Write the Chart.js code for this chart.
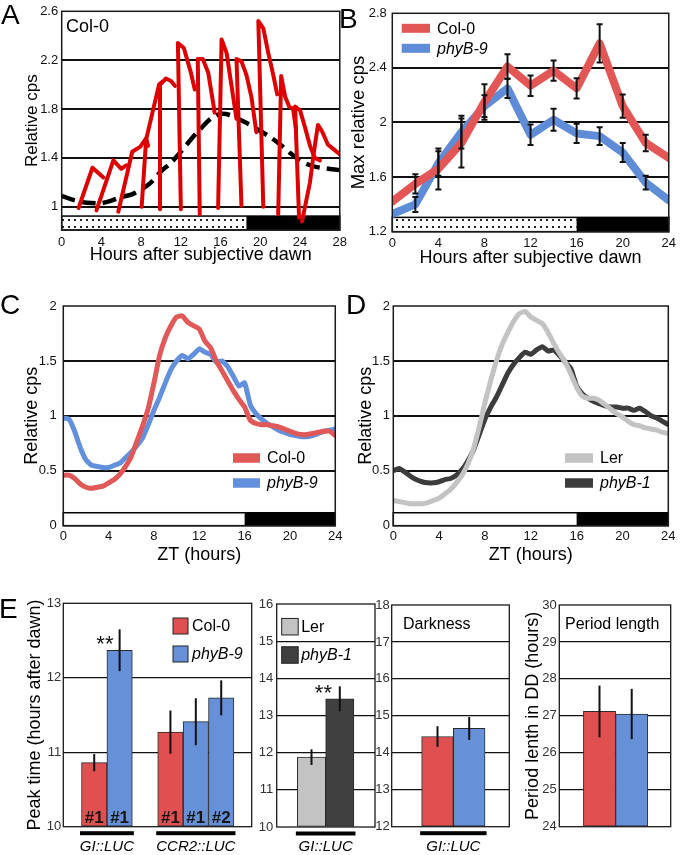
<!DOCTYPE html>
<html>
<head>
<meta charset="utf-8">
<title>phyB rhythm figure</title>
<script src="https://cdn.jsdelivr.net/npm/chart.js@4.4.1/dist/chart.umd.min.js"></script>
<style>
  body { margin: 0; background: #fff; }
  #fig { position: relative; width: 680px; height: 855px; overflow: hidden; background: #fff;
         font-family: "Liberation Sans", Arial, sans-serif; }
  #fig canvas { position: absolute; }
  .txt { position: absolute; white-space: nowrap; line-height: 1; color: #000; }
  .letter { font-size: 28px; }
  .note { font-size: 16px; }
</style>
</head>
<body>
<div id="fig">
  <canvas id="chartA" width="352" height="275" style="left:0;top:0"></canvas>
  <canvas id="chartB" width="340" height="275" style="left:340px;top:0"></canvas>
  <canvas id="chartC" width="345" height="290" style="left:0;top:280px"></canvas>
  <canvas id="chartD" width="340" height="290" style="left:340px;top:280px"></canvas>
  <canvas id="chartE1" width="258" height="265" style="left:0;top:590px"></canvas>
  <canvas id="chartE2" width="122" height="265" style="left:258px;top:590px"></canvas>
  <canvas id="chartE3" width="141" height="265" style="left:374px;top:590px"></canvas>
  <canvas id="chartE4" width="165" height="265" style="left:515px;top:590px"></canvas>

  <div class="txt letter" style="left:1px;top:1px">A</div>
  <div class="txt letter" style="left:339px;top:5px">B</div>
  <div class="txt letter" style="left:0px;top:291px">C</div>
  <div class="txt letter" style="left:346px;top:291px">D</div>
  <div class="txt letter" style="left:-1px;top:595px">E</div>
  <div class="txt" style="left:66px;top:17px;font-size:18px">Col-0</div>
  <div class="txt note" style="left:403px;top:616px">Darkness</div>
  <div class="txt note" style="left:565px;top:616px">Period length</div>
</div>

<script>
// ---------- A: Col-0 traces, one per start time (hours after subjective dawn, relative cps)
const aTraces = [
  [[1.7, 0.99], [3.1, 1.32], [4.2, 1.24]],
  [[3.5, 0.97], [5.2, 1.38], [6.0, 1.31], [6.5, 1.34]],
  [[5.7, 0.96], [7.1, 1.45], [7.9, 1.49], [8.5, 1.56], [8.7, 1.5]],
  [[8.05, 1.0], [8.5, 1.55], [9.8, 2.0], [10.1, 2.02]],
  [[9.9, 0.98], [9.9, 2.0], [10.5, 2.05], [11.0, 2.03], [11.4, 1.99]],
  [[12.0, 0.98], [11.7, 2.34], [12.3, 2.3], [13.0, 2.1], [13.4, 1.96]],
  [[13.9, 0.94], [13.7, 2.21], [14.2, 2.21], [14.75, 2.1], [15.25, 1.85], [15.4, 1.77]],
  [[15.75, 0.99], [16.1, 2.37], [16.6, 2.26], [17.1, 1.99], [17.6, 1.72]],
  [[18.1, 1.01], [17.6, 2.21], [18.1, 2.19], [18.6, 2.08], [19.1, 1.9], [19.6, 1.61]],
  [[20.3, 1.0], [19.8, 2.52], [20.3, 2.46], [20.8, 2.26], [21.3, 2.08], [21.7, 1.92]],
  [[21.8, 0.94], [22.1, 2.07], [22.5, 1.9], [22.9, 1.82], [23.3, 1.8], [23.6, 1.63]],
  [[23.9, 0.91], [23.5, 1.82], [24.0, 1.79], [24.5, 1.65], [25.0, 1.5], [25.5, 1.4], [26.0, 1.38]],
  [[24.2, 0.88], [25.0, 1.2], [25.4, 1.45], [25.8, 1.67], [26.2, 1.62], [26.8, 1.51], [27.4, 1.47], [28.0, 1.43]]
];
const aMeanHours = [0, 1, 2, 3, 4, 5, 6, 7, 8, 9, 10, 11, 12, 13, 14, 15, 16, 17, 18, 19, 20, 21, 22, 23, 24, 25, 26, 27, 28];
const aMean = [1.09, 1.06, 1.04, 1.03, 1.03, 1.05, 1.08, 1.1, 1.14, 1.2, 1.29, 1.36, 1.45, 1.55, 1.64,
               1.72, 1.76, 1.75, 1.71, 1.67, 1.62, 1.57, 1.51, 1.44, 1.38, 1.34, 1.32, 1.31, 1.3];
const aXTicks = [0, 4, 8, 12, 16, 20, 24, 28];
const aYTicks = [1, 1.4, 1.8, 2.2, 2.6];
const aLight = [0, 18.6];
const aDark = [18.6, 28];
const aBand = [0.81, 0.924];

// ---------- B: max relative cps every 2 h
const bHours = [0, 2, 4, 6, 8, 10, 12, 14, 16, 18, 20, 22, 24];
const bCol = [1.42, 1.55, 1.66, 1.85, 2.15, 2.41, 2.27, 2.38, 2.25, 2.58, 2.12, 1.85, 1.74];
const bColErr = [null, 0.07, 0.15, 0.18, 0.13, 0.09, 0.075, 0.075, 0.075, 0.14, 0.085, 0.06, null];
const bPhy = [1.33, 1.40, 1.70, 1.93, 2.12, 2.25, 1.91, 2.02, 1.92, 1.90, 1.78, 1.56, 1.43];
const bPhyErr = [null, 0.055, 0.09, 0.12, 0.08, 0.07, 0.075, 0.08, 0.07, 0.065, 0.07, 0.05, null];
const bXTicks = [0, 4, 8, 12, 16, 20, 24];
const bYTicks = [1.2, 1.6, 2, 2.4, 2.8];
const bLight = [0, 16];
const bDark = [16, 24];
const bBand = [1.2, 1.305];

// ---------- C / D: traces over ZT (half-hour steps)
const ztHours = [0, 0.5, 1, 1.5, 2, 2.5, 3, 3.5, 4, 4.5, 5, 5.5, 6, 6.5, 7, 7.5, 8, 8.5, 9, 9.5,
                 10, 10.5, 11, 11.5, 12, 12.5, 13, 13.5, 14, 14.5, 15, 15.5, 16, 16.5, 17, 17.5, 18, 18.5, 19, 19.5,
                 20, 20.5, 21, 21.5, 22, 22.5, 23, 23.5, 24];
const cCol = [0.46, 0.46, 0.43, 0.38, 0.35, 0.34, 0.35, 0.36, 0.39, 0.42, 0.47, 0.54, 0.63, 0.77, 0.91, 1.07,
              1.3, 1.55, 1.71, 1.82, 1.9, 1.91, 1.85, 1.82, 1.79, 1.68, 1.62, 1.5, 1.41, 1.32, 1.23, 1.15,
              1.08, 0.96, 0.93, 0.92, 0.92, 0.91, 0.9, 0.88, 0.86, 0.84, 0.83, 0.83, 0.84, 0.85, 0.86, 0.86, 0.82];
const cPhy = [0.98, 0.97, 0.86, 0.71, 0.6, 0.55, 0.54, 0.53, 0.53, 0.55, 0.57, 0.62, 0.67, 0.73, 0.8, 0.92,
              1.05, 1.17, 1.3, 1.42, 1.5, 1.55, 1.52, 1.56, 1.61, 1.58, 1.56, 1.49, 1.5, 1.45, 1.36, 1.27,
              1.3, 1.1, 1.02, 0.97, 0.93, 0.9, 0.87, 0.85, 0.83, 0.82, 0.81, 0.81, 0.82, 0.84, 0.86, 0.87, 0.88];
const dLer = [0.23, 0.22, 0.21, 0.2, 0.2, 0.2, 0.21, 0.23, 0.25, 0.29, 0.33, 0.39, 0.46, 0.56, 0.7, 0.9,
              1.12, 1.32, 1.5, 1.65, 1.76, 1.86, 1.93, 1.95, 1.9, 1.87, 1.84, 1.76, 1.66, 1.57, 1.49, 1.38,
              1.26, 1.18, 1.16, 1.16, 1.14, 1.1, 1.06, 1.02, 0.99, 0.95, 0.92, 0.91, 0.89, 0.88, 0.87, 0.85, 0.84];
const dPhy = [0.5, 0.52, 0.49, 0.45, 0.42, 0.4, 0.39, 0.39, 0.4, 0.42, 0.43, 0.46, 0.51, 0.59, 0.69, 0.83,
              0.97, 1.08, 1.17, 1.28, 1.39, 1.47, 1.53, 1.58, 1.56, 1.6, 1.63, 1.59, 1.6, 1.55, 1.49, 1.43,
              1.27, 1.2, 1.16, 1.13, 1.11, 1.09, 1.08, 1.08, 1.07, 1.07, 1.05, 1.07, 1.04, 1.0, 0.98, 0.95, 0.92];
const ztTicks = [0, 4, 8, 12, 16, 20, 24];
const relTicks = [0, 0.5, 1, 1.5, 2];
const ztLight = [0, 16];
const ztDark = [16, 24];
const ztBand = [0, 0.118];

// ---------- E: bar slots, values and error half-widths
const e1Groups = ['GI::LUC', 'CCR2::LUC'];
const e1GroupSlots = [[1, 2], [4, 6]];
const e1ColSlot = [1, 4];
const e1Col = [10.86, 11.27];
const e1ColErr = [0.115, 0.29];
const e1ColTag = ['#1', '#1'];
const e1PhySlot = [2, 5, 6];
const e1Phy = [12.37, 11.41, 11.73];
const e1PhyErr = [0.28, 0.315, 0.235];
const e1PhyTag = ['#1', '#1', '#2'];
const e1PhyStar = ['**', '', ''];
const e1Ticks = [10, 11, 12, 13];

const e2Groups = ['GI::LUC'];
const e2GroupSlots = [[1, 2]];
const e2Ler = [11.88];
const e2LerErr = [0.21];
const e2Phy = [13.45];
const e2PhyErr = [0.335];
const e2PhyStar = ['**'];
const e2Ticks = [10, 11, 12, 13, 14, 15, 16];

const e3Groups = ['GI::LUC'];
const e3GroupSlots = [[1, 2]];
const e3Col = [14.44];
const e3ColErr = [0.28];
const e3Phy = [14.66];
const e3PhyErr = [0.31];
const e3Ticks = [12, 13, 14, 15, 16, 17, 18];

const e4Col = [27.12];
const e4ColErr = [0.7];
const e4Phy = [27.05];
const e4PhyErr = [0.68];
const e4Ticks = [24, 25, 26, 27, 28, 29, 30];

// ---------- look
const FONT = '"Liberation Sans", Arial, sans-serif';
const RED_A = '#dd0000';
const RED = '#e35656';
const BLUE = '#5f8cd7';
const RED_BAR = '#e05050';
const BLUE_BAR = '#6690d8';
const LER = '#c3c3c3';
const PHYB1 = '#3c3c3c';

Chart.defaults.font.family = FONT;
Chart.defaults.color = '#111';
Chart.defaults.animation = false;
Chart.defaults.responsive = false;
Chart.defaults.plugins.legend.display = false;
Chart.defaults.plugins.tooltip.enabled = false;

const dotTile = (() => {
  const c = document.createElement('canvas');
  c.width = 6; c.height = 7;
  const g = c.getContext('2d');
  g.fillStyle = '#fff'; g.fillRect(0, 0, 6, 7);
  g.fillStyle = '#222'; g.fillRect(2, 2, 2, 2);
  return c;
})();

// box around the plot area
const framePlugin = {
  id: 'frame',
  defaults: {width: 1.5, color: '#1a1a1a'},
  afterDraw(chart, args, o) {
    const {ctx, chartArea: a} = chart;
    ctx.save();
    ctx.lineWidth = o.width;
    ctx.strokeStyle = o.color;
    ctx.strokeRect(a.left, a.top, a.right - a.left, a.bottom - a.top);
    ctx.restore();
  }
};

// light / dark strip at the bottom
const stripPlugin = {
  id: 'strip',
  beforeDatasetsDraw(chart, args, o) {
    if (!o.band) return;
    const {ctx} = chart;
    const xs = chart.scales.x, ys = chart.scales.y;
    const yTop = ys.getPixelForValue(o.band[1]), yBot = ys.getPixelForValue(o.band[0]);
    const l0 = xs.getPixelForValue(o.light[0]), l1 = xs.getPixelForValue(o.light[1]);
    const d1 = xs.getPixelForValue(o.dark[1]);
    ctx.save();
    ctx.fillStyle = o.dots ? ctx.createPattern(dotTile, 'repeat') : '#fff';
    ctx.fillRect(l0, yTop, l1 - l0, yBot - yTop);
    ctx.fillStyle = '#000';
    ctx.fillRect(l1, yTop, d1 - l1, yBot - yTop);
    ctx.strokeStyle = '#000';
    ctx.lineWidth = 1.5;
    ctx.strokeRect(l0, yTop, d1 - l0, yBot - yTop);
    ctx.restore();
  }
};

// error bars from dataset.errors
const errorPlugin = {
  id: 'errs',
  afterDatasetsDraw(chart, args, o) {
    const {ctx} = chart;
    const ys = chart.scales.y;
    ctx.save();
    ctx.strokeStyle = '#111';
    ctx.lineWidth = o.width || 2;
    chart.data.datasets.forEach((ds, i) => {
      if (!ds.errors) return;
      const meta = chart.getDatasetMeta(i);
      meta.data.forEach((el, j) => {
        const e = ds.errors[j];
        if (e == null) return;
        const v = meta.controller.getParsed(j).y;
        const top = ys.getPixelForValue(v + e), bot = ys.getPixelForValue(v - e);
        ctx.beginPath();
        ctx.moveTo(el.x, top); ctx.lineTo(el.x, bot);
        if (o.cap) {
          ctx.moveTo(el.x - o.cap, top); ctx.lineTo(el.x + o.cap, top);
          ctx.moveTo(el.x - o.cap, bot); ctx.lineTo(el.x + o.cap, bot);
        }
        ctx.stroke();
      });
    });
    ctx.restore();
  }
};

// swatch + label keys, text taken from dataset labels
const keyPlugin = {
  id: 'key',
  afterDatasetsDraw(chart, args, o) {
    if (!o.items) return;
    const {ctx} = chart;
    o.items.forEach(it => {
      const ds = chart.data.datasets[it.ds];
      ctx.save();
      if (it.box) {
        ctx.fillStyle = ds.backgroundColor;
        ctx.fillRect(it.x, it.y - it.h / 2, it.w, it.h);
        ctx.strokeStyle = '#222'; ctx.lineWidth = 1;
        ctx.strokeRect(it.x, it.y - it.h / 2, it.w, it.h);
      } else {
        ctx.fillStyle = ds.borderColor;
        ctx.fillRect(it.x, it.y - it.h / 2, it.w, it.h);
      }
      ctx.fillStyle = '#000';
      ctx.font = (it.italic ? 'italic ' : '') + o.size + 'px ' + FONT;
      ctx.textBaseline = 'middle';
      ctx.fillText(ds.label, it.x + it.w + o.gap, it.y + 1);
      ctx.restore();
    });
  }
};

// tags inside bars, significance stars, group underlines
const barTextPlugin = {
  id: 'barText',
  afterDatasetsDraw(chart, args, o) {
    const {ctx, chartArea: a} = chart;
    const xs = chart.scales.x, ys = chart.scales.y;
    ctx.save();
    chart.data.datasets.forEach((ds, i) => {
      const meta = chart.getDatasetMeta(i);
      meta.data.forEach((el, j) => {
        if (ds.tags && ds.tags[j]) {
          ctx.font = 'bold 17px ' + FONT;
          ctx.fillStyle = '#151515';
          ctx.textAlign = 'center';
          ctx.textBaseline = 'alphabetic';
          ctx.fillText(ds.tags[j], el.x, a.bottom - 3.5);
        }
        if (ds.stars && ds.stars[j]) {
          const v = meta.controller.getParsed(j).y + ds.errors[j];
          ctx.font = '22px ' + FONT;
          ctx.fillStyle = '#111';
          ctx.textAlign = 'center';
          ctx.textBaseline = 'alphabetic';
          ctx.fillText(ds.stars[j], el.x - 0.58 * el.width, ys.getPixelForValue(v) + o.starDy + 12.5);
        }
      });
    });
    if (o.groups) {
      const half = (xs.getPixelForValue(1) - xs.getPixelForValue(0)) / 2;
      o.groups.forEach((g, k) => {
        const x0 = xs.getPixelForValue(o.slots[k][0]) - half - 1.5;
        const x1 = xs.getPixelForValue(o.slots[k][1]) + half + 1.5;
        ctx.fillStyle = '#000';
        ctx.fillRect(x0, a.bottom + 4.5, x1 - x0, 4);
        ctx.font = 'italic 15px ' + FONT;
        ctx.textAlign = 'center';
        ctx.textBaseline = 'middle';
        ctx.fillText(g, (x0 + x1) / 2, a.bottom + 20);
      });
    }
    ctx.restore();
  }
};

Chart.register(framePlugin, stripPlugin, errorPlugin, keyPlugin, barTextPlugin);

function yAxis(o) {
  return {
    min: o.min, max: o.max,
    afterBuildTicks: s => { s.ticks = o.ticks.map(v => ({value: v})); },
    afterFit: s => { s.width = o.width; },
    grid: {
      drawTicks: false,
      lineWidth: o.gridWidth || 2,
      color: c => (c.tick.value <= c.scale.min + 1e-9 || c.tick.value >= c.scale.max - 1e-9) ? 'rgba(0,0,0,0)' : '#111'
    },
    border: {display: false},
    ticks: {padding: o.tickPad, font: {size: 13}, color: o.tickColor || '#111', callback: v => String(v)},
    title: o.title
      ? {display: true, text: o.title, color: '#000', font: {size: o.titleSize || 18}, padding: {top: o.titlePad, bottom: 0}}
      : {display: false}
  };
}

function xAxis(o) {
  return {
    type: 'linear', min: o.min, max: o.max,
    afterBuildTicks: s => { s.ticks = o.ticks.map(v => ({value: v})); },
    afterFit: s => { s.height = o.height; },
    grid: {display: false, drawTicks: false},
    border: {display: false},
    ticks: {padding: o.tickPad, font: {size: 13}, color: '#111', maxRotation: 0, autoSkip: false, callback: v => String(v)},
    title: {display: true, text: o.title, color: '#000', font: {size: 18}, padding: {top: 0, bottom: o.titlePad}}
  };
}

const pts = (xs, ys) => xs.map((x, i) => ({x, y: ys[i]}));
const lineStyle = (color, width) => ({
  borderColor: color, backgroundColor: color, borderWidth: width, pointRadius: 0,
  fill: false, tension: 0.15, borderJoinStyle: 'round', borderCapStyle: 'round'
});

// ---------- A
new Chart(document.getElementById('chartA'), {
  type: 'line',
  data: {
    datasets: aTraces.map(t => Object.assign({label: 'Col-0', data: t.map(p => ({x: p[0], y: p[1]}))}, lineStyle(RED_A, 4), {tension: 0}))
      .concat([Object.assign({label: 'mean', data: pts(aMeanHours, aMean)}, lineStyle('#000', 4.5),
        {borderDash: [14, 7], borderCapStyle: 'butt', tension: 0.3})])
  },
  options: {
    layout: {padding: {left: 0, top: 10, right: 12, bottom: 0}},
    scales: {
      x: xAxis({min: 0, max: 28, ticks: aXTicks, height: 45, tickPad: 5, title: 'Hours after subjective dawn', titlePad: 9}),
      y: yAxis({min: aBand[0], max: 2.6, ticks: aYTicks, width: 61.7, tickPad: 3.5, title: 'Relative cps', titleSize: 17, titlePad: 22})
    },
    plugins: {strip: {band: aBand, light: aLight, dark: aDark, dots: true}}
  }
});

// ---------- B
new Chart(document.getElementById('chartB'), {
  type: 'line',
  data: {
    datasets: [
      Object.assign({label: 'Col-0', data: pts(bHours, bCol), errors: bColErr}, lineStyle(RED, 8), {tension: 0}),
      Object.assign({label: 'phyB-9', data: pts(bHours, bPhy), errors: bPhyErr}, lineStyle(BLUE, 8), {tension: 0})
    ]
  },
  options: {
    layout: {padding: {left: 0, top: 10, right: 10, bottom: 0}},
    scales: {
      x: xAxis({min: 0, max: 24, ticks: bXTicks, height: 43.3, tickPad: 4, title: 'Hours after subjective dawn', titlePad: 6.5}),
      y: yAxis({min: 1.2, max: 2.8, ticks: bYTicks, width: 52.3, tickPad: 5.5, title: 'Max relative cps', titleSize: 18.5, titlePad: 8})
    },
    plugins: {
      strip: {band: bBand, light: bLight, dark: bDark, dots: true},
      errs: {width: 2, cap: 3},
      key: {size: 16, gap: 7, items: [
        {ds: 0, x: 61.7, y: 28.3, w: 28.3, h: 9},
        {ds: 1, x: 61.7, y: 48.3, w: 28.3, h: 9, italic: true}
      ]}
    }
  }
});

// ---------- C
new Chart(document.getElementById('chartC'), {
  type: 'line',
  data: {
    datasets: [
      Object.assign({label: 'Col-0', data: pts(ztHours, cCol)}, lineStyle('#e05858', 5)),
      Object.assign({label: 'phyB-9', data: pts(ztHours, cPhy)}, lineStyle('#6390dc', 5))
    ]
  },
  options: {
    layout: {padding: {left: 0, top: 26, right: 8.3, bottom: 0}},
    scales: {
      x: xAxis({min: 0, max: 24, ticks: ztTicks, height: 44.3, tickPad: 2.5, title: 'ZT (hours)', titlePad: 4.2}),
      y: yAxis({min: 0, max: 2, ticks: relTicks, width: 63.3, tickPad: 6.5, title: 'Relative cps', titlePad: 21.7})
    },
    plugins: {
      strip: {band: ztBand, light: ztLight, dark: ztDark, dots: false},
      key: {size: 16, gap: 7, items: [
        {ds: 0, x: 233, y: 178, w: 27, h: 9.5},
        {ds: 1, x: 233, y: 203, w: 27, h: 9.5, italic: true}
      ]}
    }
  }
});

// ---------- D
new Chart(document.getElementById('chartD'), {
  type: 'line',
  data: {
    datasets: [
      Object.assign({label: 'Ler', data: pts(ztHours, dLer)}, lineStyle(LER, 5)),
      Object.assign({label: 'phyB-1', data: pts(ztHours, dPhy)}, lineStyle(PHYB1, 5))
    ]
  },
  options: {
    layout: {padding: {left: 0, top: 26, right: 11.7, bottom: 0}},
    scales: {
      x: xAxis({min: 0, max: 24, ticks: ztTicks, height: 44.3, tickPad: 2.5, title: 'ZT (hours)', titlePad: 4.2}),
      y: yAxis({min: 0, max: 2, ticks: relTicks, width: 53.3, tickPad: 3.3, title: 'Relative cps', titlePad: 15.2})
    },
    plugins: {
      strip: {band: ztBand, light: ztLight, dark: ztDark, dots: false},
      key: {size: 16, gap: 7, items: [
        {ds: 0, x: 225, y: 178, w: 28, h: 9.5},
        {ds: 1, x: 225, y: 203, w: 28, h: 9.5, italic: true}
      ]}
    }
  }
});

// ---------- E
function barSet(label, slots, values, errors, color, extra) {
  return Object.assign({
    label, errors,
    data: slots.map((x, i) => ({x, y: values[i]})),
    backgroundColor: color, borderColor: '#2a2a2a', borderWidth: 1, borderSkipped: false,
    grouped: false, barPercentage: 1, categoryPercentage: 1
  }, extra || {});
}

function barOptions(o) {
  return {
    layout: {padding: {left: 0, top: o.top, right: o.right, bottom: o.bottom}},
    scales: {
      x: {type: 'linear', display: false, min: o.xMin, max: o.xMax, offset: false, grid: {offset: false}},
      y: yAxis({min: o.ticks[0], max: o.ticks[o.ticks.length - 1], ticks: o.ticks, width: o.yWidth,
        tickPad: o.tickPad, tickColor: '#333', gridWidth: 1.3, title: o.title, titleSize: 18, titlePad: o.titlePad})
    },
    plugins: {
      frame: {width: 1.3},
      errs: {width: 2, cap: 0},
      key: o.key || {},
      barText: {groups: o.groups, slots: o.slots, starDy: o.starDy || 0}
    }
  };
}

new Chart(document.getElementById('chartE1'), {
  type: 'bar',
  data: {datasets: [
    barSet('Col-0', e1ColSlot, e1Col, e1ColErr, RED_BAR, {tags: e1ColTag, base: 10}),
    barSet('phyB-9', e1PhySlot, e1Phy, e1PhyErr, BLUE_BAR, {tags: e1PhyTag, stars: e1PhyStar, base: 10})
  ]},
  options: barOptions({top: 13.3, right: 6.3, bottom: 28.3, xMin: -0.217, xMax: 7.2, ticks: e1Ticks, yWidth: 63.3,
    tickPad: 2, title: 'Peak time (hours after dawn)', titlePad: 24, groups: e1Groups, slots: e1GroupSlots, starDy: 9.5,
    key: {size: 16, gap: 4, items: [
      {ds: 0, x: 173, y: 36, w: 15, h: 16, box: true},
      {ds: 1, x: 173, y: 64, w: 15, h: 16, box: true, italic: true}
    ]}})
});

new Chart(document.getElementById('chartE2'), {
  type: 'bar',
  data: {datasets: [
    barSet('Ler', [1], e2Ler, e2LerErr, LER, {base: 10}),
    barSet('phyB-1', [2], e2Phy, e2PhyErr, '#404040', {stars: e2PhyStar, base: 10})
  ]},
  options: barOptions({top: 14, right: 5, bottom: 28, xMin: -0.23, xMax: 3.244, ticks: e2Ticks, yWidth: 18.7,
    tickPad: 3.4, groups: e2Groups, slots: e2GroupSlots, starDy: 1.5,
    key: {size: 16, gap: 3, items: [
      {ds: 0, x: 23.7, y: 36.7, w: 16.5, h: 16.5, box: true},
      {ds: 1, x: 23.7, y: 65, w: 16.5, h: 16.5, box: true, italic: true}
    ]}})
});

new Chart(document.getElementById('chartE3'), {
  type: 'bar',
  data: {datasets: [
    barSet('Col-0', [1], e3Col, e3ColErr, RED_BAR, {base: 12}),
    barSet('phyB-9', [2], e3Phy, e3PhyErr, BLUE_BAR, {base: 12})
  ]},
  options: barOptions({top: 15, right: 5.7, bottom: 28.3, xMin: -0.445, xMax: 3.265, ticks: e3Ticks, yWidth: 17.7,
    tickPad: 2, groups: e3Groups, slots: e3GroupSlots})
});

new Chart(document.getElementById('chartE4'), {
  type: 'bar',
  data: {datasets: [
    barSet('Col-0', [1], e4Col, e4ColErr, RED_BAR, {base: 24}),
    barSet('phyB-9', [2], e4Phy, e4PhyErr, BLUE_BAR, {base: 24})
  ]},
  options: barOptions({top: 15, right: 9.3, bottom: 28.3, xMin: -0.248, xMax: 3.21, ticks: e4Ticks, yWidth: 44.3,
    tickPad: 2.5, title: 'Period lenth in DD (hours)', titlePad: 7.2})
});
</script>
</body>
</html>
